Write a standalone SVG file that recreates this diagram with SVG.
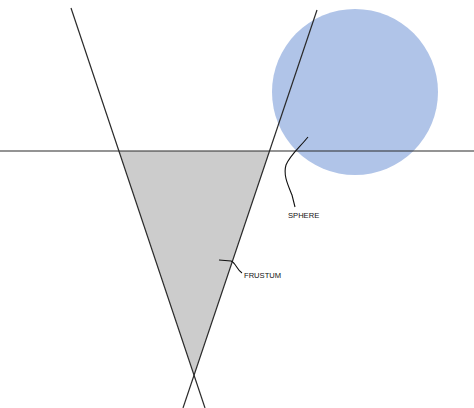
<svg xmlns="http://www.w3.org/2000/svg" width="474" height="408" viewBox="0 0 474 408">
<style>
.ln{stroke:#2a2a2a;stroke-width:1.2;fill:none}
.lead{stroke:#111;stroke-width:1.1;fill:none}
.lbl{font-family:"Liberation Sans",Arial,sans-serif;font-size:7.6px;fill:#111}
</style>
<rect width="474" height="408" fill="#fff"/>
<g id="frustum">
<polygon points="119,151 269.5,151 194,375" fill="#cccccc"/>
</g>
<g id="sphere">
<circle cx="355" cy="92" r="83" fill="#b0c4e8"/>
</g>
<g id="connectors">
<line class="ln" x1="71" y1="8" x2="205" y2="408"/>
<line class="ln" x1="317" y1="10" x2="183" y2="408"/>
<line class="ln" x1="0" y1="151" x2="474" y2="151" stroke="#111" stroke-width="1.3"/>
<path class="lead" d="M308,137 C300,147 290,155 286,165 C283,175 288,185 292,195 L295,207"/>
<path class="lead" d="M219,260 L231,261 C236,263 237,270 242,273"/>
</g>
<g id="labels">
<text class="lbl" x="288" y="218">SPHERE</text>
<text class="lbl" x="244" y="278">FRUSTUM</text>
</g>
</svg>
